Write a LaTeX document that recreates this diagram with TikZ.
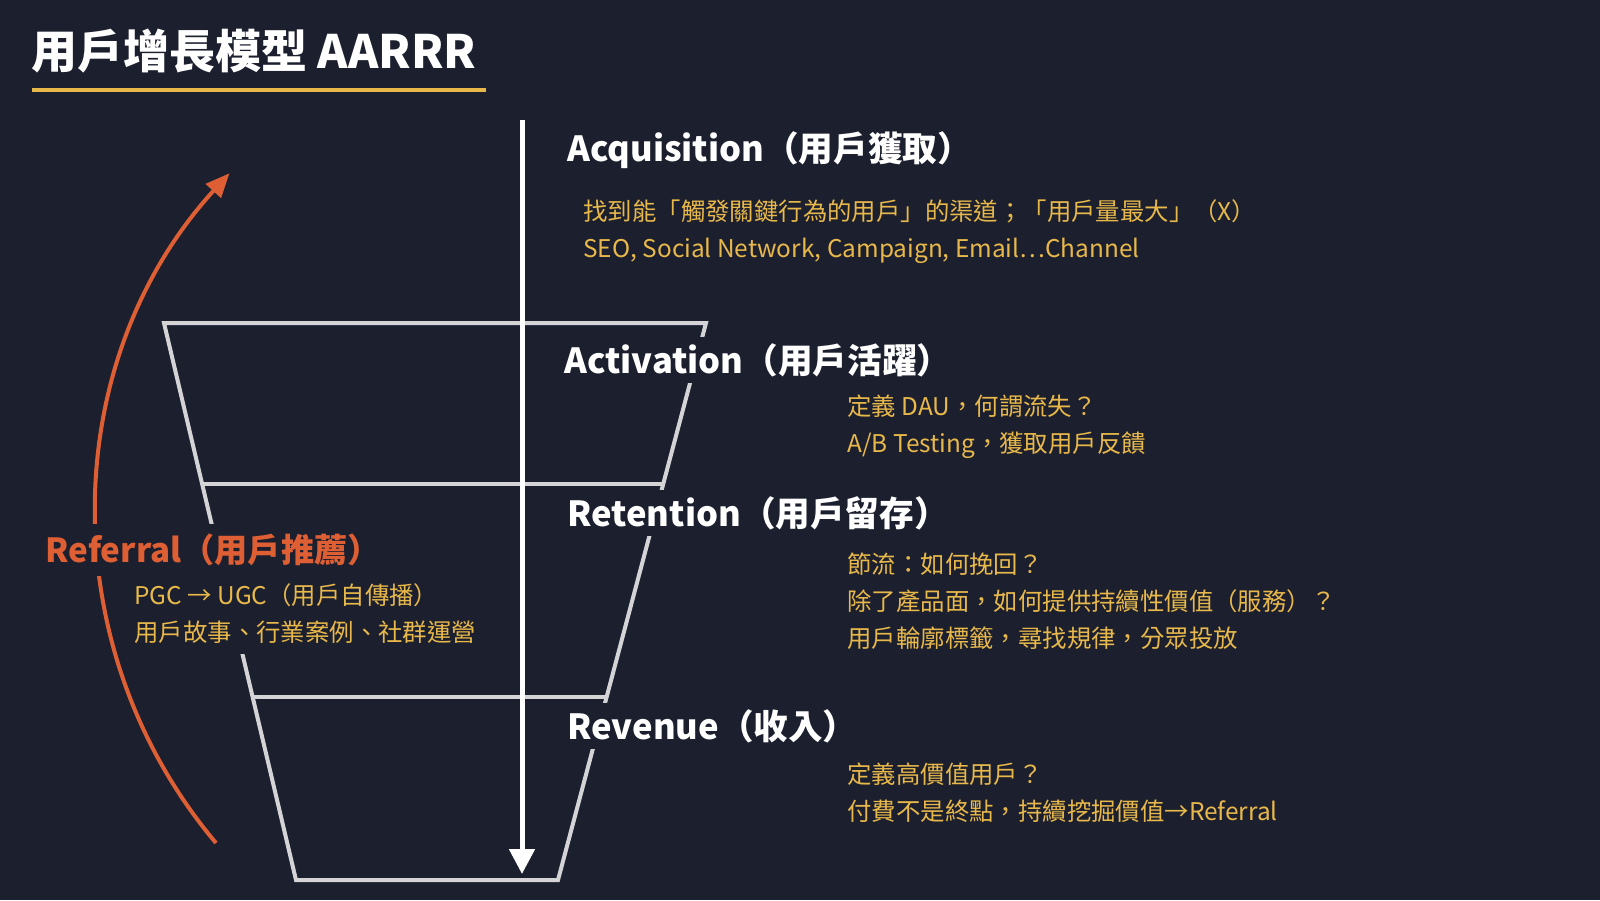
\documentclass[tikz,border=0pt]{standalone}
\usepackage{fontspec}
\setmainfont{Noto Sans CJK TC}
\usepackage{tikz}
\usetikzlibrary{arrows.meta,calc}
\definecolor{AABack}{HTML}{1B1F2E}
\definecolor{AAGold}{HTML}{E8B84A}
\definecolor{AAOrange}{HTML}{DE5F34}
\definecolor{AAGrey}{HTML}{D4D4D7}

\begin{document}
\begin{tikzpicture}[x=0.5pt,y=-0.5pt,
  titletext/.style={anchor=west,text=white,inner sep=0pt,font=\fontsize{23}{27}\selectfont\bfseries},
  headtext/.style={anchor=west,text=white,fill=AABack,inner xsep=2.5pt,inner ysep=3pt,font=\fontsize{17.3}{21}\selectfont\bfseries},
  notetext/.style={anchor=west,align=left,text=AAGold,inner sep=0pt,font=\fontsize{12.2}{18.5}\selectfont},
  funnel/.style={AAGrey,line width=2pt},
  flowarrow/.style={white,line width=2.5pt,-{Triangle[width=12.5pt,length=12.5pt]}},
  referarrow/.style={AAOrange,line width=2pt,-{Triangle[width=10pt,length=12pt]}}]
\fill[AABack] (0,0) rectangle (1600,900);
\path[use as bounding box] (0,0) rectangle (1600,900);
% title
\node[titletext] (title) at (31,51) {用戶增長模型 AARRR};
\draw[AAGold,line width=2pt] (32,90) -- (486,90);
% funnel
\coordinate (ftl) at (164,323);
\coordinate (ftr) at (706,323);
\coordinate (fbr) at (558,880);
\coordinate (fbl) at (296,880);
\draw[funnel] (ftl) -- (ftr) -- (fbr) -- (fbl) -- cycle;
\draw[funnel] ($(ftl)!0.289!(fbl)$) -- ($(ftr)!0.289!(fbr)$);
\draw[funnel] ($(ftl)!0.671!(fbl)$) -- ($(ftr)!0.671!(fbr)$);
% flow arrow
\coordinate (flowtop) at (522,120);
\coordinate (flowbot) at (522,874);
\draw[flowarrow] (flowtop) -- (flowbot);
% referral loop
\coordinate (refbot) at (216,843);
\draw[referarrow] (refbot) arc[start angle=139.9,end angle=222.4,radius=508];
% stages
\node[headtext] (acqhead) at (562,150) {Acquisition（用戶獲取）};
\node[notetext] (acqnote) at (583,231.5) {找到能「觸發關鍵行為的用戶」的渠道；「用戶量最大」（X）\\SEO, Social Network, Campaign, Email…Channel};
\node[headtext] (acthead) at (559,360) {Activation（用戶活躍）};
\node[notetext] (actnote) at (847,426.5) {定義 DAU，何謂流失？\\A/B Testing，獲取用戶反饋};
\node[headtext] (rethead) at (562,513) {Retention（用戶留存）};
\node[notetext] (retnote) at (847,601) {節流：如何挽回？\\除了產品面，如何提供持續性價值（服務）？\\用戶輪廓標籤，尋找規律，分眾投放};
\node[headtext] (revhead) at (562,726) {Revenue（收入）};
\node[notetext] (revnote) at (847,792.5) {定義高價值用戶？\\付費不是終點，持續挖掘價值→Referral};
\node[headtext,text=AAOrange,inner ysep=5pt,font=\fontsize{16.6}{20}\selectfont\bfseries] (refhead) at (40,550) {Referral（用戶推薦）};
\node[notetext,fill=AABack,inner xsep=2.5pt,inner ysep=5pt] (refnote) at (129,614) {PGC → UGC（用戶自傳播）\\用戶故事、行業案例、社群運營};
\end{tikzpicture}
\end{document}
